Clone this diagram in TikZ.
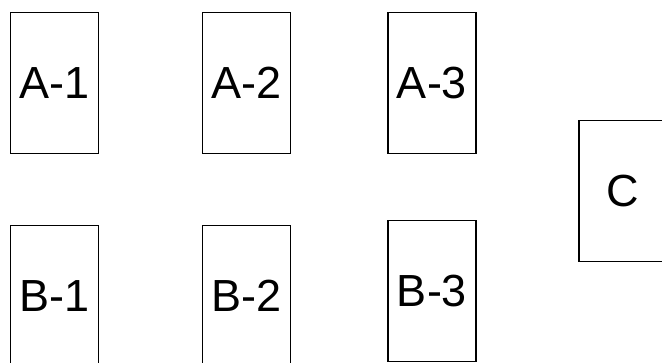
\documentclass[tikz,border=0pt]{standalone}
\usepackage{fontspec}
\setmainfont{Liberation Sans}
\usepackage{tikz}
\usetikzlibrary{positioning}

\tikzset{
  bin/.style={draw, line width=1.6pt, minimum width=88pt, minimum height=141pt,
              inner sep=0pt, font=\fontsize{45}{45}\selectfont},
}

\begin{document}
\begin{tikzpicture}[x=1pt, y=-1pt]
%
    \useasboundingbox (0,0) rectangle (662,362);
    \clip (0,0) rectangle (662,362);
%
    \node[bin] (A1) at ( 54.5, 83) {A-1};
    \node[bin] (A2) at (246.5, 83) {A-2};
    \node[bin] (A3) at (432  , 83) {A-3};
%
    \node[bin] (B1) at ( 54.5, 296) {B-1};
    \node[bin] (B2) at (246.5, 296) {B-2};
    \node[bin] (B3) at (432  , 291) {B-3};
%
    \node[bin] (C)  at (623  , 191) {C};
  \end{tikzpicture}
\end{document}
